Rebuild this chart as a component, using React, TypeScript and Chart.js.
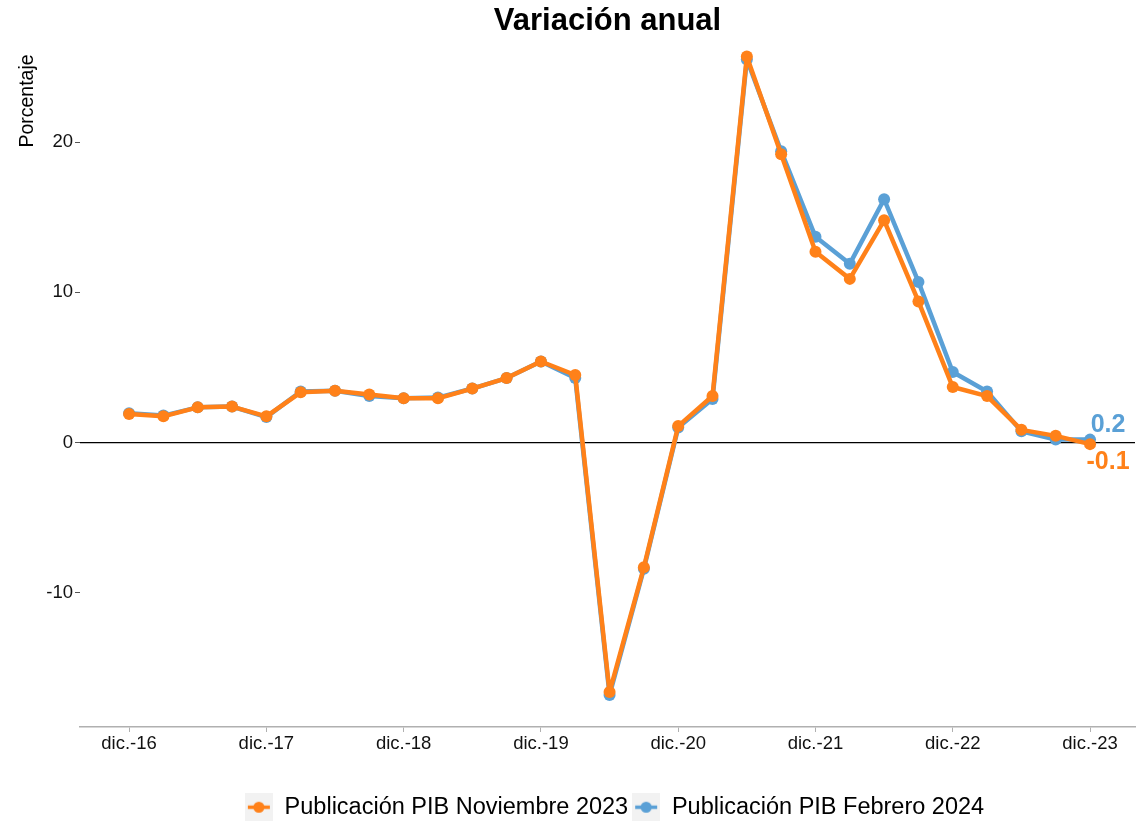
import React, { useEffect, useRef } from "react";
import { Chart, registerables } from "chart.js";

Chart.register(...registerables);

const quarterLabels = [
  "dic.-16", "mar.-17", "jun.-17", "sep.-17",
  "dic.-17", "mar.-18", "jun.-18", "sep.-18",
  "dic.-18", "mar.-19", "jun.-19", "sep.-19",
  "dic.-19", "mar.-20", "jun.-20", "sep.-20",
  "dic.-20", "mar.-21", "jun.-21", "sep.-21",
  "dic.-21", "mar.-22", "jun.-22", "sep.-22",
  "dic.-22", "mar.-23", "jun.-23", "sep.-23",
  "dic.-23",
];

const tickIndices = [0, 4, 8, 12, 16, 20, 24, 28];
const yTicks = [-10, 0, 10, 20];

const novSeries = [
  1.9, 1.75, 2.35, 2.4, 1.75, 3.35, 3.45, 3.2, 2.95, 2.95, 3.6, 4.3,
  5.4, 4.5, -16.6, -8.3, 1.1, 3.1, 25.7, 19.2, 12.7, 10.9, 14.8, 9.4,
  3.7, 3.1, 0.85, 0.45, -0.1,
];

const febSeries = [
  1.95, 1.8, 2.35, 2.4, 1.7, 3.4, 3.45, 3.1, 2.95, 3.0, 3.6, 4.3,
  5.4, 4.3, -16.8, -8.4, 1.0, 2.9, 25.5, 19.4, 13.7, 11.9, 16.2, 10.7,
  4.7, 3.4, 0.75, 0.2, 0.2,
];

const seriesNames = ["Publicación PIB Noviembre 2023", "Publicación PIB Febrero 2024"];
const chartTitle = "Variación anual";
const yTitle = "Porcentaje";
const ORANGE = "#FF8119";
const BLUE = "#5AA0D6";
const FONT = "'Liberation Sans', Arial, sans-serif";

function legendMarker(color: string): HTMLCanvasElement {
  const c = document.createElement("canvas");
  c.width = 28;
  c.height = 29;
  const ctx = c.getContext("2d")!;
  ctx.fillStyle = "#F2F2F2";
  ctx.fillRect(0, 0, 28, 29);
  ctx.strokeStyle = color;
  ctx.lineWidth = 3.5;
  ctx.beginPath();
  ctx.moveTo(3, 14.5);
  ctx.lineTo(25, 14.5);
  ctx.stroke();
  ctx.fillStyle = color;
  ctx.beginPath();
  ctx.arc(14, 14.5, 5.5, 0, Math.PI * 2);
  ctx.fill();
  return c;
}

const decorPlugin = {
  id: "decor",
  afterLayout(chart: any) {
    const lg = chart.legend;
    if (lg) {
      lg.left += 47;
      lg.right += 47;
    }
  },
  beforeDatasetsDraw(chart: any) {
    const { ctx, chartArea, scales } = chart;
    const y = scales.y.getPixelForValue(0);
    ctx.save();
    ctx.strokeStyle = "#000";
    ctx.lineWidth = 1.2;
    ctx.beginPath();
    ctx.moveTo(chartArea.left, y);
    ctx.lineTo(chartArea.right, y);
    ctx.stroke();
    ctx.restore();
  },
  afterDraw(chart: any) {
    const { ctx, chartArea } = chart;
    ctx.save();
    ctx.fillStyle = "#000";
    ctx.textAlign = "center";
    ctx.textBaseline = "middle";
    ctx.font = `bold 31px ${FONT}`;
    ctx.fillText(chartTitle, (chartArea.left + chartArea.right) / 2, 21);
    ctx.translate(28, 101);
    ctx.rotate(-Math.PI / 2);
    ctx.font = `19.5px ${FONT}`;
    ctx.fillText(yTitle, 0, 0);
    ctx.restore();
  },
};

const endLabelPlugin = {
  id: "endLabels",
  afterDatasetsDraw(chart: any) {
    const { ctx, scales } = chart;
    const last = novSeries.length - 1;
    const x = scales.x.getPixelForValue(last) + 18;
    ctx.save();
    ctx.font = `bold 25px ${FONT}`;
    ctx.textAlign = "center";
    ctx.textBaseline = "middle";
    ctx.fillStyle = BLUE;
    ctx.fillText(febSeries[last].toFixed(1), x, scales.y.getPixelForValue(febSeries[last]) - 15);
    ctx.fillStyle = ORANGE;
    ctx.fillText(novSeries[last].toFixed(1), x, scales.y.getPixelForValue(novSeries[last]) + 18);
    ctx.restore();
  },
};

export default function App() {
  const ref = useRef<HTMLCanvasElement>(null);

  useEffect(() => {
    document.body.style.margin = "0";
    const markers = [legendMarker(ORANGE), legendMarker(BLUE)];
    const chart = new Chart(ref.current!, {
      type: "line",
      data: {
        datasets: [
          {
            label: seriesNames[0],
            data: novSeries.map((v, i) => ({ x: i, y: v })),
            borderColor: ORANGE,
            backgroundColor: ORANGE,
            borderWidth: 4.5,
            borderJoinStyle: "round",
            pointRadius: 6,
            pointBorderWidth: 0,
          },
          {
            label: seriesNames[1],
            data: febSeries.map((v, i) => ({ x: i, y: v })),
            borderColor: BLUE,
            backgroundColor: BLUE,
            borderWidth: 4.5,
            borderJoinStyle: "round",
            pointRadius: 6,
            pointBorderWidth: 0,
          },
        ],
      },
      options: {
        animation: false,
        responsive: false,
        layout: { padding: { left: 0, right: 13, top: 25, bottom: -8 } },
        plugins: {
          title: { display: false },
          legend: {
            position: "bottom",
            labels: {
              color: "#000",
              font: { family: FONT, size: 23.5 },
              usePointStyle: true,
              pointStyleWidth: 28,
              padding: 4,
              generateLabels: (chart: any) =>
                chart.data.datasets.map((ds: any, i: number) => ({
                  text: ds.label,
                  pointStyle: markers[i],
                  fillStyle: ds.borderColor,
                  strokeStyle: ds.borderColor,
                  lineWidth: 0,
                  hidden: false,
                  datasetIndex: i,
                  fontColor: "#000",
                })),
            },
          },
          tooltip: { enabled: false },
        },
        scales: {
          x: {
            type: "linear",
            min: -1.43,
            max: 29.31,
            afterBuildTicks: (axis: any) => {
              axis.ticks = tickIndices.map((v) => ({ value: v }));
            },
            afterFit: (axis: any) => {
              axis.height = 64.5;
            },
            ticks: {
              autoSkip: false,
              maxRotation: 0,
              color: "#111",
              font: { family: FONT, size: 18.5 },
              padding: 1,
              callback: (v: any) => quarterLabels[Number(v)] ?? "",
            },
            grid: {
              drawOnChartArea: false,
              drawTicks: true,
              tickLength: 5,
              color: "#B0B0B0",
            },
            border: { display: true, color: "#B0B0B0", width: 1.5 },
          },
          y: {
            min: -18.93,
            max: 27.8,
            afterBuildTicks: (axis: any) => {
              axis.ticks = yTicks.map((v) => ({ value: v }));
            },
            afterFit: (axis: any) => {
              axis.width = 80;
            },
            title: { display: false },
            ticks: {
              color: "#111",
              font: { family: FONT, size: 18.5 },
              padding: 2,
            },
            grid: {
              drawOnChartArea: false,
              drawTicks: true,
              tickLength: 5,
              color: "#555",
            },
            border: { display: false },
          },
        },
      },
      plugins: [decorPlugin, endLabelPlugin],
    });
    return () => chart.destroy();
  }, []);

  return (
    <div style={{ position: "fixed", left: 0, top: 0, width: 1148, height: 821, background: "#fff" }}>
      <canvas ref={ref} width={1148} height={821} style={{ width: 1148, height: 821 }} />
    </div>
  );
}
